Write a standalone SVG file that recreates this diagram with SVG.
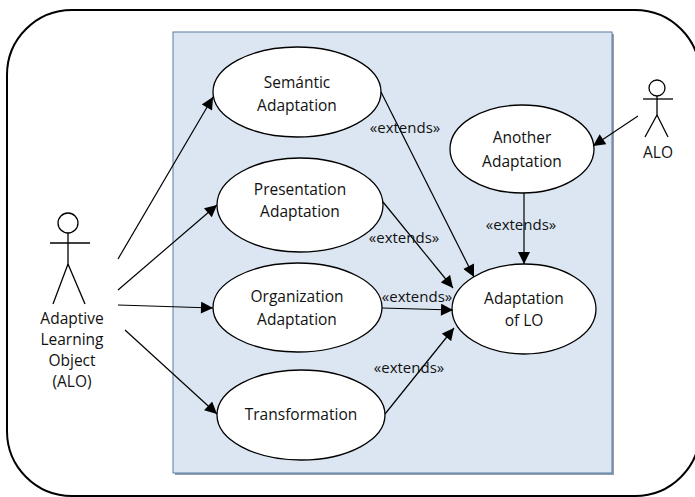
<svg xmlns="http://www.w3.org/2000/svg" width="695" height="497" viewBox="0 0 695 497">
<style>
text{font-family:"Open Sans","Noto Sans","Liberation Sans",sans-serif;font-size:15.5px;fill:#111;text-anchor:middle}
.uc{fill:#ffffff;stroke:#000;stroke-width:1.3}
.ln{stroke:#000;stroke-width:1.2;fill:none}
.act{stroke:#000;stroke-width:1.3;fill:none}
.ext{font-size:15px}
</style>
<defs>
<marker id="ah" viewBox="0 0 10 10" refX="10" refY="5" markerWidth="13" markerHeight="12" markerUnits="userSpaceOnUse" orient="auto">
<path d="M0,0 L10,5 L0,10 z" fill="#000"/>
</marker>
</defs>
<rect id="frame" x="7" y="10" width="693" height="486" rx="65" ry="65" fill="#fff" stroke="#000" stroke-width="2"/>
<g id="system">
<rect x="175" y="34" width="439" height="441" fill="#263f5e" opacity="0.5"/>
<rect x="173" y="32" width="439" height="441" fill="#dce6f2" stroke="#5b7ca3" stroke-width="1"/>
</g>
<g id="actor-alo-left">
<circle cx="68" cy="223" r="10" class="act"/>
<line x1="68" y1="233" x2="68" y2="264" class="act"/>
<line x1="50" y1="243" x2="90" y2="243" class="act"/>
<line x1="68" y1="264" x2="53" y2="304" class="act"/>
<line x1="68" y1="264" x2="85" y2="304" class="act"/>
<text x="72" y="324">Adaptive</text>
<text x="72" y="345">Learning</text>
<text x="72" y="366">Object</text>
<text x="72" y="387">(ALO)</text>
</g>
<g id="actor-alo-right">
<circle cx="657" cy="88" r="8" class="act"/>
<line x1="657" y1="96" x2="657" y2="115" class="act"/>
<line x1="643" y1="99" x2="673" y2="99" class="act"/>
<line x1="657" y1="115" x2="645" y2="137" class="act"/>
<line x1="657" y1="115" x2="668" y2="137" class="act"/>
<text x="658" y="158">ALO</text>
</g>
<g id="uc-semantic">
<ellipse cx="297" cy="92" rx="84" ry="45" class="uc"/>
<text x="297" y="88">Semántic</text>
<text x="297" y="111">Adaptation</text>
</g>
<g id="uc-presentation">
<ellipse cx="300" cy="205" rx="83" ry="47" class="uc"/>
<text x="300" y="195">Presentation</text>
<text x="300" y="217">Adaptation</text>
</g>
<g id="uc-organization">
<ellipse cx="297.5" cy="307.5" rx="84.5" ry="44.5" class="uc"/>
<text x="297" y="302">Organization</text>
<text x="297" y="325">Adaptation</text>
</g>
<g id="uc-transformation">
<ellipse cx="301" cy="415" rx="84" ry="45" class="uc"/>
<text x="301" y="420">Transformation</text>
</g>
<g id="uc-another">
<ellipse cx="522" cy="149" rx="72" ry="44" class="uc"/>
<text x="522" y="143">Another</text>
<text x="522" y="167">Adaptation</text>
</g>
<g id="uc-adaptation-lo">
<ellipse cx="524" cy="309" rx="72" ry="45" class="uc"/>
<text x="524" y="304">Adaptation</text>
<text x="524" y="326">of LO</text>
</g>
<g id="connectors">
<line x1="118" y1="259" x2="213" y2="97" class="ln" marker-end="url(#ah)"/>
<line x1="118" y1="290" x2="217" y2="205" class="ln" marker-end="url(#ah)"/>
<line x1="118" y1="305" x2="213" y2="308" class="ln" marker-end="url(#ah)"/>
<line x1="125" y1="330" x2="217" y2="414" class="ln" marker-end="url(#ah)"/>
<line x1="381" y1="92" x2="474" y2="277" class="ln" marker-end="url(#ah)"/>
<line x1="383" y1="202" x2="453" y2="288" class="ln" marker-end="url(#ah)"/>
<line x1="382" y1="308" x2="453" y2="310" class="ln" marker-end="url(#ah)"/>
<line x1="385" y1="414" x2="454" y2="328" class="ln" marker-end="url(#ah)"/>
<line x1="524" y1="193" x2="524" y2="264" class="ln" marker-end="url(#ah)"/>
<line x1="638" y1="116" x2="593" y2="146" class="ln" marker-end="url(#ah)"/>
<text class="ext" x="405" y="133">«extends»</text>
<text class="ext" x="404" y="243">«extends»</text>
<text class="ext" x="521" y="230">«extends»</text>
<text class="ext" x="417" y="302">«extends»</text>
<text class="ext" x="409" y="373">«extends»</text>
</g>
</svg>
